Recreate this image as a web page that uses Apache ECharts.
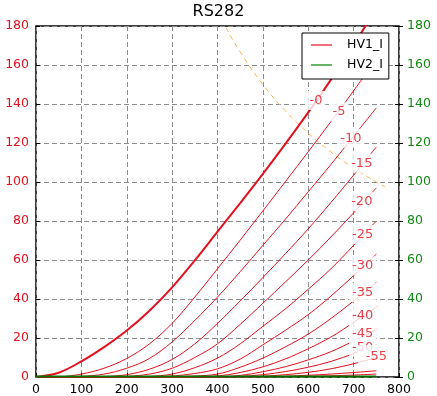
<!DOCTYPE html>
<html><head><meta charset="utf-8">
<script src="https://cdn.jsdelivr.net/npm/echarts@6/dist/echarts.min.js"></script>
<style>html,body{margin:0;padding:0;background:#fff}#c{width:437px;height:396px}</style>
</head><body><div id="c"></div>
<script>
// anode voltage samples
const xs = [0,50,100,150,200,250,300,350,400,450,500,550,600,650,700,750];
// HV1_I curves, one per grid voltage
const g0  = [0,2.2,8,15.3,23.8,34,46,59.8,74.5,89.2,104.2,119.7,135.7,152.5,170.3,189];
const g5  = [0,0.1,1.5,4.5,9.5,17,27.5,41,55.5,70.2,85.2,100.3,115.5,131,146.8,163];
const g10 = [0,0,0.3,1.5,4.5,9.5,18,29,41,54,67.5,81,95,109,123.5,138];
const g15 = [0,0,0,0.2,1.2,4,9,17,27.5,39,51,63.3,76,89.5,103.5,118];
const g20 = [0,0,0,0,0.3,1.5,4.5,10,17,27,37.8,48.8,60,71.8,84.2,97];
const g25 = [0,0,0,0,0,0.3,1.5,4.8,9.7,17,26,35,45,55.5,67.5,80];
const g30 = [0,0,0,0,0,0,0.5,1.8,4.2,9.2,16.5,24,32,41.5,52,63];
const g35 = [0,0,0,0,0,0,0.1,0.5,1.5,5,9.7,15.5,22,30,39,48.5];
const g40 = [0,0,0,0,0,0,0,0.1,0.5,2.3,5.2,9.3,14.5,20.5,28,36];
const g45 = [0,0,0,0,0,0,0,0,0.1,0.8,2.7,5.3,8.8,13,18.5,24.5];
const g50 = [0,0,0,0,0,0,0,0,0,0.3,1.2,2.8,5,8,12,16.5];
const g55 = [0,0,0,0,0,0,0,0,0,0.1,0.4,1.2,2.4,4.2,6.8,10];
const g60 = [0,0,0,0,0,0,0,0,0,0,0.1,0.4,0.9,1.5,2.3,3.2];
const g65 = [0,0,0,0,0,0,0,0,0,0,0,0.1,0.3,0.6,1,1.5];
// HV2_I
const hv2 = [0.3,0.3,0.3,0.3,0.3,0.3,0.3,0.3,0.3,0.3,0.3,0.3,0.3,0.3,0.3,0.3];
// max dissipation curve
const pdX = [400,420,450,500,550,600,650,700,750,770];
const pdY = [187.5,178.6,166.7,150,136.4,125,115.4,107.1,100,97.4];
// curve labels
const lblText = ['-0','-5','-10','-15','-20','-25','-30','-35','-40','-45','-50','-55'];
const lblX = [617,668,694,718,718,720,720,720,720,720,720,747];
const lblY = [141.8,136,122.4,109.6,90,73,57,43.3,31.6,22.4,15.3,10.2];

const curves = [g0,g5,g10,g15,g20,g25,g30,g35,g40,g45,g50,g55,g60,g65];
const RED = '#e3101e', GREEN = '#108a10', FONT = 'DejaVu Sans';

const series = [];
series.push({
  name:'Pd', type:'line', data: pdX.map((x,i)=>[x,pdY[i]]), smooth:0.4, symbol:'none',
  lineStyle:{color:'#fbb554', width:1, type:[5,4]}, z:1
});
curves.forEach((c,i)=>{
  series.push({
    name:'HV1_I', type:'line', data: xs.map((x,j)=>[x,c[j]]),
    smooth:0.35, symbol:'none',
    lineStyle:{color:RED, width: i===0?2:1}, itemStyle:{color:RED}, z:2
  });
});
series.push({
  name:'HV2_I', type:'line', data: xs.map((x,j)=>[x,hv2[j]]), symbol:'none',
  lineStyle:{color:'#007000', width:2}, itemStyle:{color:'#008000'}, z:3
});
series.push({
  name:'labels', type:'scatter', symbolSize:1, itemStyle:{color:'rgba(0,0,0,0)'},
  data: lblX.map((x,i)=>({value:[x,lblY[i]],
        label: i===lblText.length-1 ? {formatter: lblText[i], padding:[7,5,4,8]} : {formatter: lblText[i]}})),
  label:{show:true, position:'inside', color:RED, fontSize:13, fontFamily:FONT,
         backgroundColor:'#fff', padding:[3,3]},
  z:6, silent:true
});

const chart = echarts.init(document.getElementById('c'), null, {renderer:'canvas'});
chart.setOption({
  animation:false,
  backgroundColor:'#fff',
  title:{text:'RS282', left:'center', top:4, padding:0,
         textStyle:{fontFamily:FONT, fontSize:16, fontWeight:'normal', color:'#000'}},
  legend:{data:[{name:'HV1_I', icon:'rect', itemStyle:{color:RED}},
                {name:'HV2_I', icon:'rect', itemStyle:{color:'#008000'}}],
          orient:'vertical', left:302, top:33,
          padding:[4,6,6,9], itemGap:4, itemWidth:21, itemHeight:1.2,
          backgroundColor:'#fff', borderColor:'#000', borderWidth:1,
          textStyle:{fontFamily:FONT, fontSize:12.5, color:'#000', padding:[0,0,0,10], lineHeight:16}},
  grid:{left:36, top:26, width:363, height:353, show:true, borderColor:'#000', borderWidth:1.5, backgroundColor:'transparent'},
  xAxis:{type:'value', min:0, max:800, interval:100,
         axisLine:{show:false}, axisTick:{inside:true, length:4, lineStyle:{color:'#000'}},
         axisLabel:{color:'#000', fontFamily:FONT, fontSize:12.5, margin:6},
         splitLine:{show:true, lineStyle:{color:'#8c8c8c', width:1, type:[5,3]}}},
  yAxis:[
    {type:'value', min:0, max:180, interval:20, position:'left',
     axisLine:{show:false}, axisTick:{show:true, inside:true, length:4, lineStyle:{color:'#000'}},
     axisLabel:{color:RED, fontFamily:FONT, fontSize:12.5, margin:7},
     splitLine:{show:true, lineStyle:{color:'#8c8c8c', width:1, type:[5,3]}}},
    {type:'value', min:0, max:180, interval:20, position:'right',
     axisLine:{show:false}, axisTick:{show:true, inside:false, length:4, lineStyle:{color:'#000'}},
     axisLabel:{color:GREEN, fontFamily:FONT, fontSize:12.5, margin:8},
     splitLine:{show:false}},
    {type:'value', min:0, max:180, interval:20, position:'right',
     axisLine:{show:false}, axisTick:{show:true, inside:true, length:4, lineStyle:{color:'#000'}},
     axisLabel:{show:false}, splitLine:{show:false}}
  ],
  series: series
});
</script></body></html>
